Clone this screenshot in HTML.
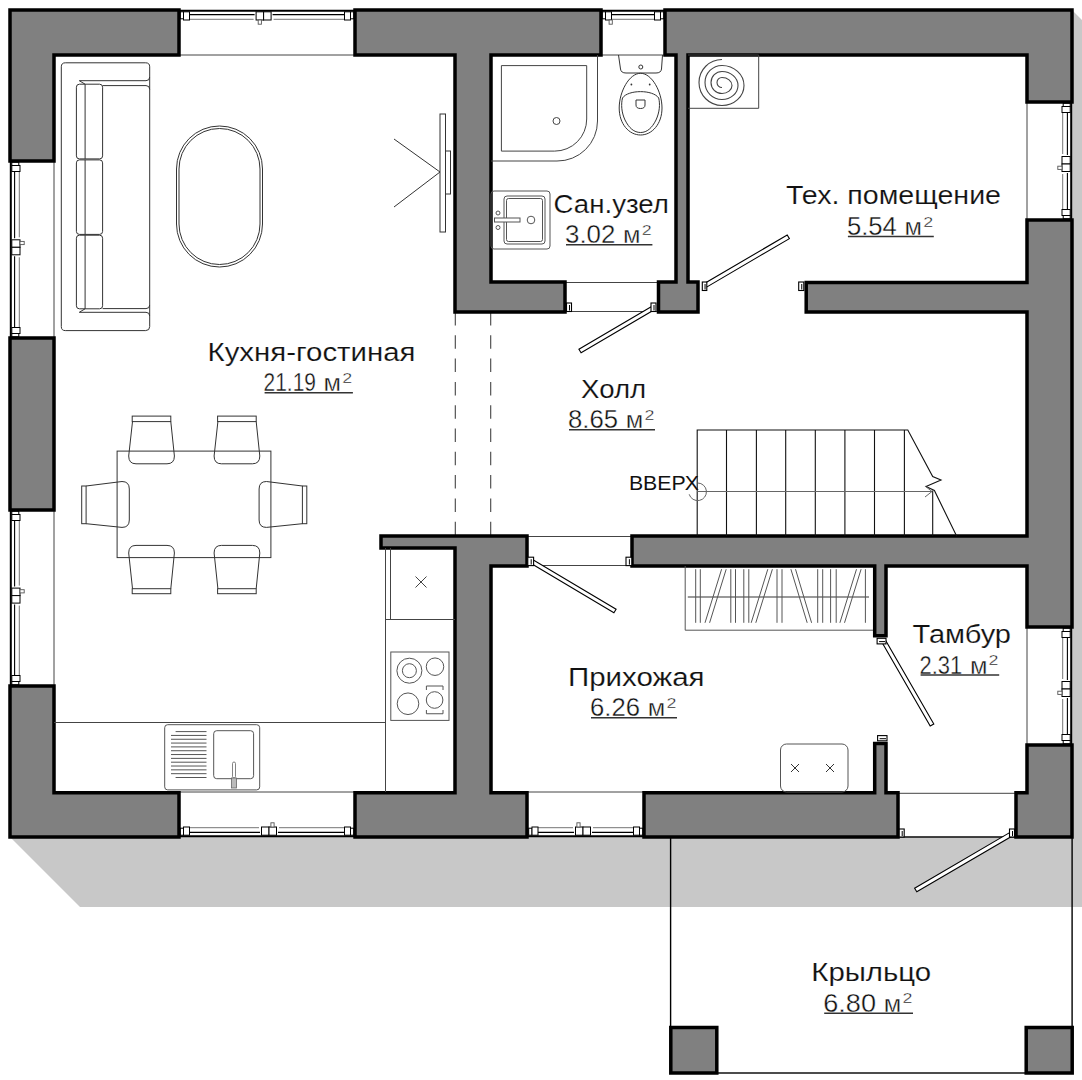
<!DOCTYPE html>
<html><head><meta charset="utf-8"><style>
html,body{margin:0;padding:0;background:#fff;}
svg{display:block;font-family:"Liberation Sans",sans-serif;}
</style></head><body>
<svg width="1082" height="1080" viewBox="0 0 1082 1080">
<rect x="0" y="0" width="1082" height="1080" fill="#fff"/>
<polygon points="10,837 80,907 1082,907 1082,20 1072,10 1072,837" fill="#c8c8c8" stroke="none" stroke-width="0" stroke-linejoin="miter"/>
<rect x="670.6" y="837" width="401.5" height="236" rx="0" fill="none" stroke="#000" stroke-width="1.4"/>
<g transform="matrix(1,0,0,1,0,10)">
<line x1="179" y1="45" x2="355" y2="45" stroke="#444" stroke-width="1" />
<line x1="179" y1="0.8" x2="355" y2="0.8" stroke="#000" stroke-width="2" />
<line x1="188" y1="4.6" x2="254.60000000000002" y2="4.6" stroke="#000" stroke-width="1.1" />
<line x1="189" y1="9.3" x2="253.60000000000002" y2="9.3" stroke="#666" stroke-width="0.9" />
<line x1="272.6" y1="4.6" x2="346" y2="4.6" stroke="#000" stroke-width="1.1" />
<line x1="273.6" y1="9.3" x2="345" y2="9.3" stroke="#666" stroke-width="0.9" />
<rect x="180.2" y="1.8" width="3.3" height="7" rx="0" fill="#fff" stroke="#000" stroke-width="1"/>
<rect x="183.5" y="1.8" width="6" height="8.2" rx="0" fill="#fff" stroke="#000" stroke-width="1"/>
<rect x="350.5" y="1.8" width="3.3" height="7" rx="0" fill="#fff" stroke="#000" stroke-width="1"/>
<rect x="344.5" y="1.8" width="6" height="8.2" rx="0" fill="#fff" stroke="#000" stroke-width="1"/>
<rect x="256.1" y="1.8" width="7.5" height="8.2" rx="0" fill="#fff" stroke="#000" stroke-width="1"/>
<rect x="263.6" y="1.8" width="7.5" height="8.2" rx="0" fill="#fff" stroke="#000" stroke-width="1"/>
<rect x="258.2" y="10" width="3.2" height="4.2" rx="0" fill="#fff" stroke="#555" stroke-width="0.9"/>
</g>
<g transform="matrix(1,0,0,1,0,10)">
<line x1="601" y1="45" x2="665" y2="45" stroke="#444" stroke-width="1" />
<line x1="601" y1="0.8" x2="665" y2="0.8" stroke="#000" stroke-width="2" />
<line x1="610" y1="4.6" x2="656" y2="4.6" stroke="#000" stroke-width="1.1" />
<line x1="611" y1="9.3" x2="655" y2="9.3" stroke="#666" stroke-width="0.9" />
<rect x="602.2" y="1.8" width="3.3" height="7" rx="0" fill="#fff" stroke="#000" stroke-width="1"/>
<rect x="605.5" y="1.8" width="6" height="8.2" rx="0" fill="#fff" stroke="#000" stroke-width="1"/>
<rect x="660.5" y="1.8" width="3.3" height="7" rx="0" fill="#fff" stroke="#000" stroke-width="1"/>
<rect x="654.5" y="1.8" width="6" height="8.2" rx="0" fill="#fff" stroke="#000" stroke-width="1"/>
<rect x="609.1" y="10" width="3.2" height="4.2" rx="0" fill="#fff" stroke="#555" stroke-width="0.9"/>
</g>
<g transform="matrix(1,0,0,-1,0,837)">
<line x1="179" y1="45" x2="355" y2="45" stroke="#444" stroke-width="1" />
<line x1="179" y1="0.8" x2="355" y2="0.8" stroke="#000" stroke-width="2" />
<line x1="188" y1="4.6" x2="260" y2="4.6" stroke="#000" stroke-width="1.1" />
<line x1="189" y1="9.3" x2="259" y2="9.3" stroke="#666" stroke-width="0.9" />
<line x1="278" y1="4.6" x2="346" y2="4.6" stroke="#000" stroke-width="1.1" />
<line x1="279" y1="9.3" x2="345" y2="9.3" stroke="#666" stroke-width="0.9" />
<rect x="180.2" y="1.8" width="3.3" height="7" rx="0" fill="#fff" stroke="#000" stroke-width="1"/>
<rect x="183.5" y="1.8" width="6" height="8.2" rx="0" fill="#fff" stroke="#000" stroke-width="1"/>
<rect x="350.5" y="1.8" width="3.3" height="7" rx="0" fill="#fff" stroke="#000" stroke-width="1"/>
<rect x="344.5" y="1.8" width="6" height="8.2" rx="0" fill="#fff" stroke="#000" stroke-width="1"/>
<rect x="261.5" y="1.8" width="7.5" height="8.2" rx="0" fill="#fff" stroke="#000" stroke-width="1"/>
<rect x="269" y="1.8" width="7.5" height="8.2" rx="0" fill="#fff" stroke="#000" stroke-width="1"/>
<rect x="270.9" y="10" width="3.2" height="4.2" rx="0" fill="#fff" stroke="#555" stroke-width="0.9"/>
</g>
<g transform="matrix(1,0,0,-1,0,837)">
<line x1="527.5" y1="45" x2="644" y2="45" stroke="#444" stroke-width="1" />
<line x1="527.5" y1="0.8" x2="644" y2="0.8" stroke="#000" stroke-width="2" />
<line x1="536.5" y1="4.6" x2="574" y2="4.6" stroke="#000" stroke-width="1.1" />
<line x1="537.5" y1="9.3" x2="573" y2="9.3" stroke="#666" stroke-width="0.9" />
<line x1="592" y1="4.6" x2="635" y2="4.6" stroke="#000" stroke-width="1.1" />
<line x1="593" y1="9.3" x2="634" y2="9.3" stroke="#666" stroke-width="0.9" />
<rect x="528.7" y="1.8" width="3.3" height="7" rx="0" fill="#fff" stroke="#000" stroke-width="1"/>
<rect x="532.0" y="1.8" width="6" height="8.2" rx="0" fill="#fff" stroke="#000" stroke-width="1"/>
<rect x="639.5" y="1.8" width="3.3" height="7" rx="0" fill="#fff" stroke="#000" stroke-width="1"/>
<rect x="633.5" y="1.8" width="6" height="8.2" rx="0" fill="#fff" stroke="#000" stroke-width="1"/>
<rect x="575.5" y="1.8" width="7.5" height="8.2" rx="0" fill="#fff" stroke="#000" stroke-width="1"/>
<rect x="583" y="1.8" width="7.5" height="8.2" rx="0" fill="#fff" stroke="#000" stroke-width="1"/>
<rect x="576.9" y="10" width="3.2" height="4.2" rx="0" fill="#fff" stroke="#555" stroke-width="0.9"/>
</g>
<g transform="matrix(0,1,1,0,10,0)">
<line x1="161" y1="44" x2="338" y2="44" stroke="#444" stroke-width="1" />
<line x1="161" y1="0.8" x2="338" y2="0.8" stroke="#000" stroke-width="2" />
<line x1="170" y1="4.6" x2="238.3" y2="4.6" stroke="#000" stroke-width="1.1" />
<line x1="171" y1="9.3" x2="237.3" y2="9.3" stroke="#666" stroke-width="0.9" />
<line x1="256.3" y1="4.6" x2="329" y2="4.6" stroke="#000" stroke-width="1.1" />
<line x1="257.3" y1="9.3" x2="328" y2="9.3" stroke="#666" stroke-width="0.9" />
<rect x="162.2" y="1.8" width="3.3" height="7" rx="0" fill="#fff" stroke="#000" stroke-width="1"/>
<rect x="165.5" y="1.8" width="6" height="8.2" rx="0" fill="#fff" stroke="#000" stroke-width="1"/>
<rect x="333.5" y="1.8" width="3.3" height="7" rx="0" fill="#fff" stroke="#000" stroke-width="1"/>
<rect x="327.5" y="1.8" width="6" height="8.2" rx="0" fill="#fff" stroke="#000" stroke-width="1"/>
<rect x="239.8" y="1.8" width="7.5" height="8.2" rx="0" fill="#fff" stroke="#000" stroke-width="1"/>
<rect x="247.3" y="1.8" width="7.5" height="8.2" rx="0" fill="#fff" stroke="#000" stroke-width="1"/>
<rect x="241.4" y="10" width="3.2" height="4.2" rx="0" fill="#fff" stroke="#555" stroke-width="0.9"/>
</g>
<g transform="matrix(0,1,1,0,10,0)">
<line x1="510" y1="44" x2="686" y2="44" stroke="#444" stroke-width="1" />
<line x1="510" y1="0.8" x2="686" y2="0.8" stroke="#000" stroke-width="2" />
<line x1="519" y1="4.6" x2="586.6" y2="4.6" stroke="#000" stroke-width="1.1" />
<line x1="520" y1="9.3" x2="585.6" y2="9.3" stroke="#666" stroke-width="0.9" />
<line x1="604.6" y1="4.6" x2="677" y2="4.6" stroke="#000" stroke-width="1.1" />
<line x1="605.6" y1="9.3" x2="676" y2="9.3" stroke="#666" stroke-width="0.9" />
<rect x="511.2" y="1.8" width="3.3" height="7" rx="0" fill="#fff" stroke="#000" stroke-width="1"/>
<rect x="514.5" y="1.8" width="6" height="8.2" rx="0" fill="#fff" stroke="#000" stroke-width="1"/>
<rect x="681.5" y="1.8" width="3.3" height="7" rx="0" fill="#fff" stroke="#000" stroke-width="1"/>
<rect x="675.5" y="1.8" width="6" height="8.2" rx="0" fill="#fff" stroke="#000" stroke-width="1"/>
<rect x="588.1" y="1.8" width="7.5" height="8.2" rx="0" fill="#fff" stroke="#000" stroke-width="1"/>
<rect x="595.6" y="1.8" width="7.5" height="8.2" rx="0" fill="#fff" stroke="#000" stroke-width="1"/>
<rect x="589.6999999999999" y="10" width="3.2" height="4.2" rx="0" fill="#fff" stroke="#555" stroke-width="0.9"/>
</g>
<g transform="matrix(0,1,-1,0,1072,0)">
<line x1="102" y1="45" x2="220" y2="45" stroke="#444" stroke-width="1" />
<line x1="102" y1="0.8" x2="220" y2="0.8" stroke="#000" stroke-width="2" />
<line x1="111" y1="4.6" x2="155" y2="4.6" stroke="#000" stroke-width="1.1" />
<line x1="112" y1="9.3" x2="154" y2="9.3" stroke="#666" stroke-width="0.9" />
<line x1="173" y1="4.6" x2="211" y2="4.6" stroke="#000" stroke-width="1.1" />
<line x1="174" y1="9.3" x2="210" y2="9.3" stroke="#666" stroke-width="0.9" />
<rect x="103.2" y="1.8" width="3.3" height="7" rx="0" fill="#fff" stroke="#000" stroke-width="1"/>
<rect x="106.5" y="1.8" width="6" height="8.2" rx="0" fill="#fff" stroke="#000" stroke-width="1"/>
<rect x="215.5" y="1.8" width="3.3" height="7" rx="0" fill="#fff" stroke="#000" stroke-width="1"/>
<rect x="209.5" y="1.8" width="6" height="8.2" rx="0" fill="#fff" stroke="#000" stroke-width="1"/>
<rect x="156.5" y="1.8" width="7.5" height="8.2" rx="0" fill="#fff" stroke="#000" stroke-width="1"/>
<rect x="164" y="1.8" width="7.5" height="8.2" rx="0" fill="#fff" stroke="#000" stroke-width="1"/>
<rect x="166.20000000000002" y="10" width="3.2" height="4.2" rx="0" fill="#fff" stroke="#555" stroke-width="0.9"/>
</g>
<g transform="matrix(0,1,-1,0,1072,0)">
<line x1="627" y1="45" x2="745" y2="45" stroke="#444" stroke-width="1" />
<line x1="627" y1="0.8" x2="745" y2="0.8" stroke="#000" stroke-width="2" />
<line x1="636" y1="4.6" x2="680" y2="4.6" stroke="#000" stroke-width="1.1" />
<line x1="637" y1="9.3" x2="679" y2="9.3" stroke="#666" stroke-width="0.9" />
<line x1="698" y1="4.6" x2="736" y2="4.6" stroke="#000" stroke-width="1.1" />
<line x1="699" y1="9.3" x2="735" y2="9.3" stroke="#666" stroke-width="0.9" />
<rect x="628.2" y="1.8" width="3.3" height="7" rx="0" fill="#fff" stroke="#000" stroke-width="1"/>
<rect x="631.5" y="1.8" width="6" height="8.2" rx="0" fill="#fff" stroke="#000" stroke-width="1"/>
<rect x="740.5" y="1.8" width="3.3" height="7" rx="0" fill="#fff" stroke="#000" stroke-width="1"/>
<rect x="734.5" y="1.8" width="6" height="8.2" rx="0" fill="#fff" stroke="#000" stroke-width="1"/>
<rect x="681.5" y="1.8" width="7.5" height="8.2" rx="0" fill="#fff" stroke="#000" stroke-width="1"/>
<rect x="689" y="1.8" width="7.5" height="8.2" rx="0" fill="#fff" stroke="#000" stroke-width="1"/>
<rect x="691.1999999999999" y="10" width="3.2" height="4.2" rx="0" fill="#fff" stroke="#555" stroke-width="0.9"/>
</g>
<line x1="565" y1="282.5" x2="657" y2="282.5" stroke="#444" stroke-width="1" />
<line x1="565" y1="311.5" x2="657" y2="311.5" stroke="#444" stroke-width="1" />
<line x1="527" y1="536.5" x2="632" y2="536.5" stroke="#444" stroke-width="1" />
<line x1="527" y1="565.5" x2="632" y2="565.5" stroke="#444" stroke-width="1" />
<line x1="898" y1="793.3" x2="1016" y2="793.3" stroke="#444" stroke-width="1" />
<line x1="898" y1="836.5" x2="1016" y2="836.5" stroke="#444" stroke-width="1" />
<line x1="455.3" y1="312" x2="455.3" y2="536" stroke="#444" stroke-width="1.1" stroke-dasharray="13.5,9.8"/>
<line x1="490.7" y1="312" x2="490.7" y2="536" stroke="#444" stroke-width="1.1" stroke-dasharray="13.5,9.8"/>
<polygon points="10,10 179,10 179,55 54,55 54,161 10,161" fill="#808080" stroke="#000" stroke-width="3.5" stroke-linejoin="miter"/>
<polygon points="355,10 601,10 601,55 491,55 491,282 565,282 565,312 455,312 455,55 355,55" fill="#808080" stroke="#000" stroke-width="3.5" stroke-linejoin="miter"/>
<polygon points="665,10 1072,10 1072,102 1027,102 1027,55 688,55 688,282 698,282 698,312 658.5,312 658.5,282 676,282 676,55 665,55" fill="#808080" stroke="#000" stroke-width="3.5" stroke-linejoin="miter"/>
<polygon points="1027,220 1072,220 1072,627 1027,627 1027,566 886,566 886,635.7 874.7,635.7 874.7,566 632,566 632,536 1027,536 1027,312 806.2,312 806.2,282.5 1027,282.5" fill="#808080" stroke="#000" stroke-width="3.5" stroke-linejoin="miter"/>
<polygon points="10,338 54,338 54,510 10,510" fill="#808080" stroke="#000" stroke-width="3.5" stroke-linejoin="miter"/>
<polygon points="381,536 527,536 527,566 491,566 491,792.8 527,792.8 527,837 355,837 355,792.8 455,792.8 455,548 381,548" fill="#808080" stroke="#000" stroke-width="3.5" stroke-linejoin="miter"/>
<polygon points="10,686 54,686 54,792.8 179,792.8 179,837 10,837" fill="#808080" stroke="#000" stroke-width="3.5" stroke-linejoin="miter"/>
<polygon points="644,792.8 874.7,792.8 874.7,743.4 886,743.4 886,792.8 898,792.8 898,837 644,837" fill="#808080" stroke="#000" stroke-width="3.5" stroke-linejoin="miter"/>
<polygon points="1027,745 1072,745 1072,837 1016,837 1016,792.8 1027,792.8" fill="#808080" stroke="#000" stroke-width="3.5" stroke-linejoin="miter"/>
<rect x="670.8" y="1027.5" width="46" height="45.5" rx="0" fill="#808080" stroke="#000" stroke-width="3.5"/>
<rect x="1026.2" y="1027.5" width="46" height="45.5" rx="0" fill="#808080" stroke="#000" stroke-width="3.5"/>
<polygon points="652.9,305.7 578.9,349.2 581.1,352.8 655.1,309.3" fill="#fff" stroke="#000" stroke-width="1.1"/>
<polygon points="706.6,287.1 789.4,238.6 787.2,235.0 704.4,283.5" fill="#fff" stroke="#000" stroke-width="1.1"/>
<polygon points="529.9,562.8 613.9,612.8 616.1,609.2 532.1,559.2" fill="#fff" stroke="#000" stroke-width="1.1"/>
<polygon points="881.2,641.0 930.2,726.0 933.8,724.0 884.8,639.0" fill="#fff" stroke="#000" stroke-width="1.1"/>
<polygon points="1010.9,831.9 914.6,888.2 916.8,891.8 1013.1,835.5" fill="#fff" stroke="#000" stroke-width="1.1"/>
<rect x="566.5" y="303" width="5.0" height="8.5" rx="0" fill="#fff" stroke="#000" stroke-width="1.1"/>
<line x1="569.5" y1="305" x2="569.5" y2="310.5" stroke="#000" stroke-width="1" />
<rect x="651" y="303" width="5" height="8.5" rx="0" fill="#fff" stroke="#000" stroke-width="1.1"/>
<line x1="654.0" y1="305" x2="654.0" y2="310.5" stroke="#000" stroke-width="1" />
<rect x="702.3" y="282" width="4.5" height="8.5" rx="0" fill="#fff" stroke="#000" stroke-width="1.1"/>
<line x1="705.05" y1="284" x2="705.05" y2="289.5" stroke="#000" stroke-width="1" />
<rect x="798.7" y="282" width="5.099999999999909" height="8.5" rx="0" fill="#fff" stroke="#000" stroke-width="1.1"/>
<line x1="801.75" y1="284" x2="801.75" y2="289.5" stroke="#000" stroke-width="1" />
<rect x="527.8" y="557.2" width="5.800000000000068" height="8.399999999999977" rx="0" fill="#fff" stroke="#000" stroke-width="1.1"/>
<line x1="531.2" y1="559.2" x2="531.2" y2="564.6" stroke="#000" stroke-width="1" />
<rect x="626" y="557.2" width="5.7999999999999545" height="8.399999999999977" rx="0" fill="#fff" stroke="#000" stroke-width="1.1"/>
<line x1="629.4" y1="559.2" x2="629.4" y2="564.6" stroke="#000" stroke-width="1" />
<rect x="877.1" y="638.3" width="8.899999999999977" height="5.600000000000023" rx="0" fill="#fff" stroke="#000" stroke-width="1.1"/>
<line x1="879.1" y1="641.5999999999999" x2="885" y2="641.5999999999999" stroke="#000" stroke-width="1" />
<rect x="877.6" y="735.6" width="9.399999999999977" height="5.199999999999932" rx="0" fill="#fff" stroke="#000" stroke-width="1.1"/>
<line x1="879.6" y1="738.7" x2="886" y2="738.7" stroke="#000" stroke-width="1" />
<rect x="899.2" y="829" width="5.0" height="8" rx="0" fill="#fff" stroke="#000" stroke-width="1.1"/>
<line x1="902.2" y1="831" x2="902.2" y2="836" stroke="#000" stroke-width="1" />
<rect x="1009.5" y="829" width="5.0" height="8" rx="0" fill="#fff" stroke="#000" stroke-width="1.1"/>
<line x1="1012.5" y1="831" x2="1012.5" y2="836" stroke="#000" stroke-width="1" />
<rect x="61.3" y="62.8" width="88.4" height="267.8" rx="4" fill="none" stroke="#333" stroke-width="1"/>
<path d="M79.3,80.7 L146,80.7 Q149.7,80.7 149.7,77 M79.3,312.3 L146,312.3 Q149.7,312.3 149.7,316" fill="none" stroke="#333" stroke-width="1"/>
<path d="M102.6,85.6 L146,85.6 Q149.7,85.6 149.7,89.3 M102.6,308.6 L146,308.6 Q149.7,308.6 149.7,305" fill="none" stroke="#333" stroke-width="1"/>
<path d="M79.3,80.7 L85.1,84.2 M79.3,312.3 L85.1,308.8" fill="none" stroke="#333" stroke-width="1"/>
<rect x="76.4" y="84.2" width="26.2" height="74.7" rx="3" fill="none" stroke="#333" stroke-width="1"/>
<line x1="85.1" y1="84.2" x2="85.1" y2="158.9" stroke="#333" stroke-width="1" />
<rect x="76.4" y="159.9" width="26.2" height="74.5" rx="3" fill="none" stroke="#333" stroke-width="1"/>
<line x1="85.1" y1="159.9" x2="85.1" y2="234.4" stroke="#333" stroke-width="1" />
<rect x="76.4" y="235.2" width="26.2" height="73.60000000000002" rx="3" fill="none" stroke="#333" stroke-width="1"/>
<line x1="85.1" y1="235.2" x2="85.1" y2="308.8" stroke="#333" stroke-width="1" />
<rect x="176.5" y="126" width="86" height="141" rx="43" fill="none" stroke="#333" stroke-width="1"/>
<rect x="179" y="128.5" width="81" height="136" rx="40.5" fill="none" stroke="#333" stroke-width="1"/>
<line x1="394" y1="139" x2="440" y2="172" stroke="#333" stroke-width="1" />
<line x1="440" y1="172" x2="394" y2="207" stroke="#333" stroke-width="1" />
<rect x="440" y="114" width="5.5" height="118" rx="0" fill="#fff" stroke="#333" stroke-width="1"/>
<rect x="445.5" y="151" width="5" height="43" rx="0" fill="#fff" stroke="#333" stroke-width="1"/>
<rect x="117.1" y="451.1" width="153.8" height="106.5" rx="0" fill="none" stroke="#333" stroke-width="1"/>
<rect x="132.2" y="416.1" width="38.6" height="5.5" rx="0" fill="none" stroke="#333" stroke-width="1"/>
<path d="M132.5,421.6 L128.7,456 Q128.7,463.8 136,463.8 L167,463.8 Q174.4,463.8 174.4,456 L170.8,421.6" fill="none" stroke="#333" stroke-width="1"/>
<rect x="217.6" y="416.1" width="38.6" height="5.5" rx="0" fill="none" stroke="#333" stroke-width="1"/>
<path d="M217.9,421.6 L214.1,456 Q214.1,463.8 221.4,463.8 L252.4,463.8 Q259.8,463.8 259.8,456 L256.20000000000005,421.6" fill="none" stroke="#333" stroke-width="1"/>
<rect x="132.2" y="588.7" width="38.6" height="5" rx="0" fill="none" stroke="#333" stroke-width="1"/>
<path d="M132.5,588.7 L128.7,553 Q128.7,545.4 136,545.4 L167,545.4 Q174.4,545.4 174.4,553 L170.8,588.7" fill="none" stroke="#333" stroke-width="1"/>
<rect x="217.6" y="588.7" width="38.6" height="5" rx="0" fill="none" stroke="#333" stroke-width="1"/>
<path d="M217.9,588.7 L214.1,553 Q214.1,545.4 221.4,545.4 L252.4,545.4 Q259.8,545.4 259.8,553 L256.20000000000005,588.7" fill="none" stroke="#333" stroke-width="1"/>
<rect x="81.7" y="486" width="4.4" height="37.7" rx="0" fill="none" stroke="#333" stroke-width="1"/>
<path d="M86.1,486 L122,481.5 Q129.3,481.5 129.3,489 L129.3,520 Q129.3,527.4 122,527.4 L86.1,523.7" fill="none" stroke="#333" stroke-width="1"/>
<rect x="302.4" y="486" width="4.4" height="37.7" rx="0" fill="none" stroke="#333" stroke-width="1"/>
<path d="M302.4,486 L266.4,481.5 Q259.1,481.5 259.1,489 L259.1,520 Q259.1,527.4 266.4,527.4 L302.4,523.7" fill="none" stroke="#333" stroke-width="1"/>
<line x1="54" y1="722.5" x2="385.5" y2="722.5" stroke="#444" stroke-width="1" />
<line x1="385.5" y1="548" x2="385.5" y2="792" stroke="#444" stroke-width="1" />
<line x1="390.5" y1="548" x2="390.5" y2="619" stroke="#444" stroke-width="1" />
<line x1="385.5" y1="619.5" x2="455" y2="619.5" stroke="#444" stroke-width="1" />
<line x1="415.5" y1="576.5" x2="426.5" y2="587.5" stroke="#444" stroke-width="1" />
<line x1="426.5" y1="576.5" x2="415.5" y2="587.5" stroke="#444" stroke-width="1" />
<rect x="390.8" y="652" width="58.2" height="68.4" rx="0" fill="none" stroke="#555" stroke-width="1"/>
<circle cx="409.4" cy="670.7" r="12.5" fill="none" stroke="#555" stroke-width="1"/>
<circle cx="409.4" cy="670.7" r="7" fill="none" stroke="#555" stroke-width="1"/>
<circle cx="435" cy="666.7" r="8.75" fill="none" stroke="#555" stroke-width="1"/>
<circle cx="408" cy="703.75" r="10.8" fill="none" stroke="#555" stroke-width="1"/>
<circle cx="434.6" cy="700" r="8.3" fill="none" stroke="#555" stroke-width="1"/>
<path d="M426.4,690 L426.4,686 L443,686 L443,690 M426.4,710 L426.4,713.75 L443,713.75 L443,710" fill="none" stroke="#555" stroke-width="1"/>
<rect x="164.7" y="724.7" width="95" height="65.2" rx="3" fill="none" stroke="#555" stroke-width="1"/>
<rect x="213.7" y="730.7" width="39.9" height="48" rx="3" fill="none" stroke="#555" stroke-width="1"/>
<line x1="175.6" y1="731.6" x2="206.5" y2="731.6" stroke="#555" stroke-width="1" />
<line x1="171" y1="735.4250000000001" x2="206.5" y2="735.4250000000001" stroke="#555" stroke-width="1" />
<line x1="171" y1="739.25" x2="206.5" y2="739.25" stroke="#555" stroke-width="1" />
<line x1="171" y1="743.075" x2="206.5" y2="743.075" stroke="#555" stroke-width="1" />
<line x1="171" y1="746.9" x2="206.5" y2="746.9" stroke="#555" stroke-width="1" />
<line x1="171" y1="750.725" x2="206.5" y2="750.725" stroke="#555" stroke-width="1" />
<line x1="171" y1="754.5500000000001" x2="206.5" y2="754.5500000000001" stroke="#555" stroke-width="1" />
<line x1="171" y1="758.375" x2="206.5" y2="758.375" stroke="#555" stroke-width="1" />
<line x1="171" y1="762.2" x2="206.5" y2="762.2" stroke="#555" stroke-width="1" />
<line x1="171" y1="766.025" x2="206.5" y2="766.025" stroke="#555" stroke-width="1" />
<line x1="171" y1="769.85" x2="206.5" y2="769.85" stroke="#555" stroke-width="1" />
<line x1="171" y1="773.6750000000001" x2="206.5" y2="773.6750000000001" stroke="#555" stroke-width="1" />
<line x1="175.6" y1="777.5" x2="206.5" y2="777.5" stroke="#555" stroke-width="1" />
<rect x="232.5" y="762" width="3" height="16" rx="1.5" fill="none" stroke="#666" stroke-width="0.8"/>
<rect x="231.5" y="778" width="5" height="10" rx="0" fill="#bbb" stroke="#666" stroke-width="0.8"/>
<path d="M491,161 L557,161 A40,40 0 0 0 597.5,121 L597.5,55" fill="none" stroke="#444" stroke-width="1"/>
<path d="M501.4,65.6 L586.7,65.6 L586.7,119 A32,32 0 0 1 554.7,151.1 L501.4,151.1 Z" fill="none" stroke="#444" stroke-width="1"/>
<circle cx="556.5" cy="121" r="3.5" fill="none" stroke="#444" stroke-width="1"/>
<rect x="491" y="191" width="59" height="58" rx="3" fill="none" stroke="#555" stroke-width="1"/>
<rect x="504" y="196" width="41" height="48" rx="3" fill="none" stroke="#555" stroke-width="1"/>
<rect x="506.5" y="198.5" width="36" height="43" rx="2" fill="none" stroke="#555" stroke-width="1"/>
<rect x="494.5" y="218" width="25.5" height="4" rx="0" fill="#fff" stroke="#555" stroke-width="1"/>
<circle cx="498" cy="213" r="2" fill="none" stroke="#555" stroke-width="1"/>
<circle cx="498" cy="227.5" r="2" fill="none" stroke="#555" stroke-width="1"/>
<circle cx="531" cy="220" r="3.8" fill="none" stroke="#555" stroke-width="1"/>
<path d="M618.5,55 L620.5,69 Q621,73 626,73 L656,73 Q661,73 661.5,69 L662.5,55" fill="none" stroke="#333" stroke-width="1"/>
<circle cx="640.8" cy="67" r="2" fill="none" stroke="#333" stroke-width="1"/>
<path d="M640.6,73.3 C652,73.3 662,92 662,108 C662,124 652,135 640.6,135 C629,135 619.2,124 619.2,108 C619.2,92 629,73.3 640.6,73.3 Z" fill="none" stroke="#333" stroke-width="1"/>
<path d="M622.5,98 C628,89.5 653,89.5 658.7,98 C660.2,104 659.7,112 656,120 C652,128 647,132.5 640.6,132.5 C634,132.5 629,128 625,120 C621.3,112 621,104 622.5,98 Z" fill="none" stroke="#333" stroke-width="1"/>
<circle cx="631.4" cy="84.5" r="0.9" fill="#333" stroke="#000" stroke-width="0"/>
<circle cx="649.7" cy="84.5" r="0.9" fill="#333" stroke="#000" stroke-width="0"/>
<path d="M636,100 L636,105 Q636,108.5 640.6,108.5 Q645,108.5 645,105 L645,100 Z" fill="none" stroke="#333" stroke-width="1"/>
<path d="M688,55 L758.7,55 L758.7,108.3 L688,108.3" fill="none" stroke="#444" stroke-width="1"/>
<path d="M722,59.5 A23,23 0 0 0 722,105.5 A22,20 0 0 0 722,65.5 A17,17 0 0 0 722,99.5 A16,14 0 0 0 722,71.5 A11,11 0 0 0 722,93.5 A10,8 0 0 0 722,77.5 A5,5 0 0 0 722,87.5" fill="none" stroke="#444" stroke-width="1.1"/>
<path d="M873,630.2 L685.2,630.2 L685.2,566" fill="none" stroke="#555" stroke-width="1"/>
<line x1="687.8" y1="597" x2="869" y2="597" stroke="#777" stroke-width="1.6" />
<line x1="695.7" y1="569.2" x2="695.7" y2="622.8" stroke="#555" stroke-width="1" />
<line x1="700.3" y1="569.2" x2="700.3" y2="622.8" stroke="#555" stroke-width="1" />
<line x1="721.6" y1="569.2" x2="705" y2="622.8" stroke="#555" stroke-width="1" />
<line x1="726.2" y1="569.2" x2="709.6" y2="622.8" stroke="#555" stroke-width="1" />
<line x1="730.8" y1="569.2" x2="730.8" y2="622.8" stroke="#555" stroke-width="1" />
<line x1="735.5" y1="569.2" x2="735.5" y2="622.8" stroke="#555" stroke-width="1" />
<line x1="743.8" y1="569.2" x2="743.8" y2="622.8" stroke="#555" stroke-width="1" />
<line x1="748.8" y1="569.2" x2="748.8" y2="622.8" stroke="#555" stroke-width="1" />
<line x1="767.8" y1="569.2" x2="751.2" y2="622.8" stroke="#555" stroke-width="1" />
<line x1="772.4" y1="569.2" x2="755.8" y2="622.8" stroke="#555" stroke-width="1" />
<line x1="777" y1="569.2" x2="777" y2="622.8" stroke="#555" stroke-width="1" />
<line x1="782" y1="569.2" x2="782" y2="622.8" stroke="#555" stroke-width="1" />
<line x1="790.9" y1="569.2" x2="807.2" y2="622.8" stroke="#555" stroke-width="1" />
<line x1="795.5" y1="569.2" x2="811.6" y2="622.8" stroke="#555" stroke-width="1" />
<line x1="817.7" y1="569.2" x2="817.7" y2="622.8" stroke="#555" stroke-width="1" />
<line x1="822.7" y1="569.2" x2="822.7" y2="622.8" stroke="#555" stroke-width="1" />
<line x1="830.6" y1="569.2" x2="830.6" y2="622.8" stroke="#555" stroke-width="1" />
<line x1="836.2" y1="569.2" x2="836.2" y2="622.8" stroke="#555" stroke-width="1" />
<line x1="856.5" y1="569.2" x2="839.9" y2="622.8" stroke="#555" stroke-width="1" />
<line x1="861.1" y1="569.2" x2="844.5" y2="622.8" stroke="#555" stroke-width="1" />
<line x1="865.4" y1="569.2" x2="865.4" y2="622.8" stroke="#555" stroke-width="1" />
<rect x="780.5" y="744" width="67.5" height="48" rx="6" fill="none" stroke="#555" stroke-width="1"/>
<line x1="791" y1="764" x2="799" y2="772" stroke="#333" stroke-width="1" />
<line x1="799" y1="764" x2="791" y2="772" stroke="#333" stroke-width="1" />
<line x1="826" y1="764" x2="834" y2="772" stroke="#333" stroke-width="1" />
<line x1="834" y1="764" x2="826" y2="772" stroke="#333" stroke-width="1" />
<path d="M697.2,536 L697.2,430 L907.8,430 L932.7,476.6 L941,480 L926,486.5 L934.4,490.5 L956.6,536" fill="none" stroke="#111" stroke-width="1.1"/>
<line x1="726.5" y1="430" x2="726.5" y2="536" stroke="#111" stroke-width="1.1" />
<line x1="756.4" y1="430" x2="756.4" y2="536" stroke="#111" stroke-width="1.1" />
<line x1="785.7" y1="430" x2="785.7" y2="536" stroke="#111" stroke-width="1.1" />
<line x1="815.3" y1="430" x2="815.3" y2="536" stroke="#111" stroke-width="1.1" />
<line x1="844.9" y1="430" x2="844.9" y2="536" stroke="#111" stroke-width="1.1" />
<line x1="874.5" y1="430" x2="874.5" y2="536" stroke="#111" stroke-width="1.1" />
<line x1="904.4" y1="430" x2="904.4" y2="536" stroke="#111" stroke-width="1.1" />
<line x1="932.7" y1="490.5" x2="932.7" y2="536" stroke="#111" stroke-width="1.1" />
<line x1="697" y1="491.5" x2="932" y2="491.5" stroke="#666" stroke-width="1" />
<path d="M925,486 L932,491.5 L925,497" fill="none" stroke="#666" stroke-width="1"/>
<path d="M697.7,483 A8.8,8.8 0 1 1 689.2,494.3" fill="none" stroke="#666" stroke-width="1"/>
<text x="207.5" y="360.5" font-size="25" textLength="208" lengthAdjust="spacingAndGlyphs" fill="#111" stroke="#fff" stroke-width="0.15">Кухня-гостиная</text>
<text x="263.6" y="391.2" font-size="25" textLength="52.3" lengthAdjust="spacingAndGlyphs" fill="#111" stroke="#fff" stroke-width="0.35">21.19</text>
<text x="323.6" y="391.2" font-size="23.5" textLength="17.5" lengthAdjust="spacingAndGlyphs" fill="#111" stroke="#fff" stroke-width="0.35">м</text>
<text x="342.3" y="382.8" font-size="14.1" textLength="9.9" lengthAdjust="spacingAndGlyphs" fill="#111" stroke="#fff" stroke-width="0.3">2</text>
<line x1="264.6" y1="392.8" x2="352.90000000000003" y2="392.8" stroke="#333" stroke-width="1.5" />
<text x="553.5" y="212.8" font-size="25" textLength="115.5" lengthAdjust="spacingAndGlyphs" fill="#111" stroke="#fff" stroke-width="0.15">Сан.узел</text>
<text x="565" y="243.20000000000002" font-size="25" textLength="50.4" lengthAdjust="spacingAndGlyphs" fill="#111" stroke="#fff" stroke-width="0.35">3.02</text>
<text x="623.1" y="243.20000000000002" font-size="23.5" textLength="17.5" lengthAdjust="spacingAndGlyphs" fill="#111" stroke="#fff" stroke-width="0.35">м</text>
<text x="641.8" y="234.8" font-size="14.1" textLength="9.9" lengthAdjust="spacingAndGlyphs" fill="#111" stroke="#fff" stroke-width="0.3">2</text>
<line x1="566" y1="244.8" x2="652.4" y2="244.8" stroke="#333" stroke-width="1.5" />
<text x="786.0" y="204" font-size="25" textLength="215" lengthAdjust="spacingAndGlyphs" fill="#111" stroke="#fff" stroke-width="0.15">Тех. помещение</text>
<text x="846.9" y="235.0" font-size="25" textLength="49.9" lengthAdjust="spacingAndGlyphs" fill="#111" stroke="#fff" stroke-width="0.35">5.54</text>
<text x="904.5" y="235.0" font-size="23.5" textLength="17.5" lengthAdjust="spacingAndGlyphs" fill="#111" stroke="#fff" stroke-width="0.35">м</text>
<text x="923.2" y="226.6" font-size="14.1" textLength="9.9" lengthAdjust="spacingAndGlyphs" fill="#111" stroke="#fff" stroke-width="0.3">2</text>
<line x1="847.9" y1="236.6" x2="933.8" y2="236.6" stroke="#333" stroke-width="1.5" />
<text x="581.1" y="397.5" font-size="25" textLength="65" lengthAdjust="spacingAndGlyphs" fill="#111" stroke="#fff" stroke-width="0.15">Холл</text>
<text x="568" y="428.2" font-size="25" textLength="50.0" lengthAdjust="spacingAndGlyphs" fill="#111" stroke="#fff" stroke-width="0.35">8.65</text>
<text x="625.7" y="428.2" font-size="23.5" textLength="17.5" lengthAdjust="spacingAndGlyphs" fill="#111" stroke="#fff" stroke-width="0.35">м</text>
<text x="644.4" y="419.8" font-size="14.1" textLength="9.9" lengthAdjust="spacingAndGlyphs" fill="#111" stroke="#fff" stroke-width="0.3">2</text>
<line x1="569" y1="429.8" x2="655" y2="429.8" stroke="#333" stroke-width="1.5" />
<text x="628.9" y="490" font-size="20.8" textLength="70" lengthAdjust="spacingAndGlyphs" fill="#111" stroke="#fff" stroke-width="0">ВВЕРХ</text>
<text x="568.0" y="686" font-size="25" textLength="136.5" lengthAdjust="spacingAndGlyphs" fill="#111" stroke="#fff" stroke-width="0.15">Прихожая</text>
<text x="590" y="716.1" font-size="25" textLength="50.0" lengthAdjust="spacingAndGlyphs" fill="#111" stroke="#fff" stroke-width="0.35">6.26</text>
<text x="647.7" y="716.1" font-size="23.5" textLength="17.5" lengthAdjust="spacingAndGlyphs" fill="#111" stroke="#fff" stroke-width="0.35">м</text>
<text x="666.4" y="707.7" font-size="14.1" textLength="9.9" lengthAdjust="spacingAndGlyphs" fill="#111" stroke="#fff" stroke-width="0.3">2</text>
<line x1="591" y1="717.7" x2="677" y2="717.7" stroke="#333" stroke-width="1.5" />
<text x="912.5" y="643" font-size="25" textLength="98.5" lengthAdjust="spacingAndGlyphs" fill="#111" stroke="#fff" stroke-width="0.15">Тамбур</text>
<text x="919.6" y="673.5" font-size="25" textLength="42.6" lengthAdjust="spacingAndGlyphs" fill="#111" stroke="#fff" stroke-width="0.35">2.31</text>
<text x="969.9" y="673.5" font-size="23.5" textLength="17.5" lengthAdjust="spacingAndGlyphs" fill="#111" stroke="#fff" stroke-width="0.35">м</text>
<text x="988.6" y="665.1" font-size="14.1" textLength="9.9" lengthAdjust="spacingAndGlyphs" fill="#111" stroke="#fff" stroke-width="0.3">2</text>
<line x1="920.6" y1="675.1" x2="999.2" y2="675.1" stroke="#333" stroke-width="1.5" />
<text x="811.3" y="981" font-size="25" textLength="119.8" lengthAdjust="spacingAndGlyphs" fill="#111" stroke="#fff" stroke-width="0.15">Крыльцо</text>
<text x="823.2" y="1011.6999999999999" font-size="25" textLength="52.8" lengthAdjust="spacingAndGlyphs" fill="#111" stroke="#fff" stroke-width="0.35">6.80</text>
<text x="883.7" y="1011.6999999999999" font-size="23.5" textLength="17.5" lengthAdjust="spacingAndGlyphs" fill="#111" stroke="#fff" stroke-width="0.35">м</text>
<text x="902.4" y="1003.3" font-size="14.1" textLength="9.9" lengthAdjust="spacingAndGlyphs" fill="#111" stroke="#fff" stroke-width="0.3">2</text>
<line x1="824.2" y1="1013.3" x2="913.0" y2="1013.3" stroke="#333" stroke-width="1.5" />
</svg></body></html>
